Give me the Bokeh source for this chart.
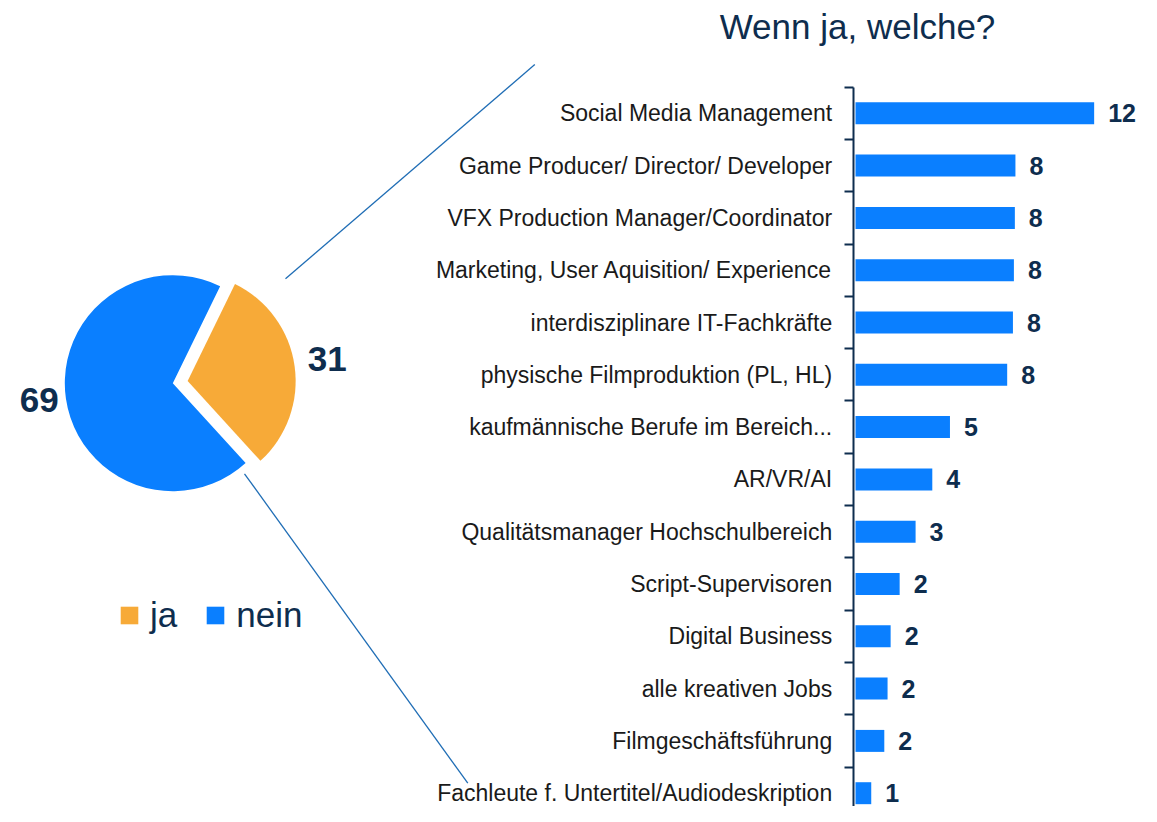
import math
from bokeh.plotting import figure
from bokeh.models import (Range1d, LinearAxis, FixedTicker, Legend, LegendItem,
                          ColumnDataSource)
from bokeh.core.properties import value
from bokeh.embed import file_html
from bokeh.resources import INLINE

# ---------------- data ----------------
categories = [
    "Social Media Management",
    "Game Producer/ Director/ Developer",
    "VFX Production Manager/Coordinator",
    "Marketing, User Aquisition/ Experience",
    "interdisziplinare IT-Fachkräfte",
    "physische Filmproduktion (PL, HL)",
    "kaufmännische Berufe im Bereich...",
    "AR/VR/AI",
    "Qualitätsmanager Hochschulbereich",
    "Script-Supervisoren",
    "Digital Business",
    "alle kreativen Jobs",
    "Filmgeschäftsführung",
    "Fachleute f. Untertitel/Audiodeskription",
]
values = [12.43, 8.33, 8.30, 8.25, 8.20, 7.90, 4.92, 4.00, 3.13, 2.30, 1.83, 1.67, 1.50, 0.82]
value_labels = ["12", "8", "8", "8", "8", "8", "5", "4", "3", "2", "2", "2", "2", "1"]

pie_labels = ["ja", "nein"]
pie_values = [31, 69]

title_text = "Wenn ja, welche?"

# ---------------- styles / layout ----------------
W, H = 1141, 806
BLUE = "#0A7FFF"
ORANGE = "#F7AA38"
NAVY = "#0E2D4E"
TEXT = "#1A1A1A"
LINE = "#1F6DB5"
FONT = "Liberation Sans"

PX_PER_UNIT = 19.2   # bar scale
ZERO_X = 855         # pixel of value 0
PITCH = 52.3         # category pitch in px
FIRST = 112.8        # centre of first category in px

PIE_CX, PIE_CY, PIE_R = 172.3, 382.7, 108
FIRST_ANGLE = 26     # rotation of first slice (deg, clockwise from 12 o'clock)
pie_colors = [ORANGE, BLUE]
pie_explode = [15, 0]
pie_label_dist = [141, 135]

p = figure(width=W, height=H, output_backend="svg", toolbar_location=None,
           x_axis_type=None, y_axis_type=None,
           x_range=Range1d(-ZERO_X / PX_PER_UNIT, (W - ZERO_X) / PX_PER_UNIT),
           y_range=Range1d((H - FIRST) / PITCH, -FIRST / PITCH),
           min_border=0, outline_line_color=None)
p.extra_x_ranges = {"px": Range1d(0, W)}
p.extra_y_ranges = {"px": Range1d(-H, 0)}

# ---------------- bars ----------------
n = len(categories)
bar_src = ColumnDataSource(dict(y=list(range(n)), value=values, label=value_labels))
p.hbar(y="y", left=0, right="value", height=0.42, fill_color=BLUE, line_color=None,
       source=bar_src)
p.text(x="value", y="y", text="label", x_offset=14, text_align="left",
       text_baseline="middle", text_font=value(FONT), text_font_style="bold",
       text_font_size="25px", text_color=NAVY, source=bar_src)

AXIS_X = -0.12
tick_axis = LinearAxis(ticker=FixedTicker(ticks=[i - 0.5 for i in range(n + 1)]),
                       fixed_location=AXIS_X, bounds=(-0.5, n - 0.5),
                       axis_line_color=NAVY, axis_line_width=2,
                       major_tick_line_color=NAVY, major_tick_line_width=2,
                       major_tick_out=9, major_tick_in=0,
                       minor_tick_line_color=None, major_label_text_color=None)
label_axis = LinearAxis(ticker=FixedTicker(ticks=list(range(n))),
                        fixed_location=AXIS_X,
                        major_label_overrides={i: c for i, c in enumerate(categories)},
                        axis_line_color=None, major_tick_line_color=None,
                        minor_tick_line_color=None, major_tick_out=0, major_tick_in=0,
                        major_label_standoff=21, major_label_text_font=FONT,
                        major_label_text_font_size="23px", major_label_text_color=TEXT)
p.add_layout(tick_axis, "left")
p.add_layout(label_axis, "left")

# ---------------- pie ----------------
total = sum(pie_values)
cur = math.radians(90 - FIRST_ANGLE)
starts, ends, xs, ys, lx, ly = [], [], [], [], [], []
for v, ex, ld in zip(pie_values, pie_explode, pie_label_dist):
    sweep = 2 * math.pi * v / total
    e = cur
    s = cur - sweep
    cur = s
    mid = (s + e) / 2
    cx = PIE_CX + ex * math.cos(mid)
    cy = -PIE_CY + ex * math.sin(mid)
    starts.append(s); ends.append(e); xs.append(cx); ys.append(cy)
    lx.append(cx + ld * math.cos(mid)); ly.append(cy + ld * math.sin(mid))

pie_src = ColumnDataSource(dict(x=xs, y=ys, start=starts, end=ends, color=pie_colors,
                                label=pie_labels, num=[str(v) for v in pie_values],
                                lx=lx, ly=ly))
wr = p.wedge(x="x", y="y", radius=PIE_R, start_angle="start", end_angle="end",
             fill_color="color", line_color=None, source=pie_src,
             x_range_name="px", y_range_name="px")
p.text(x="lx", y="ly", text="num", text_align="center", text_baseline="middle",
       y_offset=-2, text_font=value(FONT), text_font_style="bold",
       text_font_size="35px", text_color=NAVY, source=pie_src,
       x_range_name="px", y_range_name="px")

# connector lines
p.segment(x0=[285, 244], y0=[-278.3, -473.3], x1=[534.3, 467.3], y1=[-64, -782.7],
          line_color=LINE, line_width=1.3, x_range_name="px", y_range_name="px")

# title
p.text(x=[857], y=[-25.5], text=[title_text], text_align="center",
       text_baseline="middle", text_font=value(FONT), text_font_size="35px",
       text_color=NAVY, x_range_name="px", y_range_name="px")

legend = Legend(items=[LegendItem(label=pie_labels[0], renderers=[wr], index=0),
                       LegendItem(label=pie_labels[1], renderers=[wr], index=1)],
                orientation="horizontal", location=(118, 171),
                label_text_font=FONT, label_text_font_size="35px",
                label_text_color=NAVY, glyph_width=22, glyph_height=22,
                label_standoff=10, spacing=27, padding=0, margin=0,
                border_line_color=None, background_fill_alpha=0)
p.add_layout(legend)

open("out.html", "w").write(file_html(p, INLINE))
